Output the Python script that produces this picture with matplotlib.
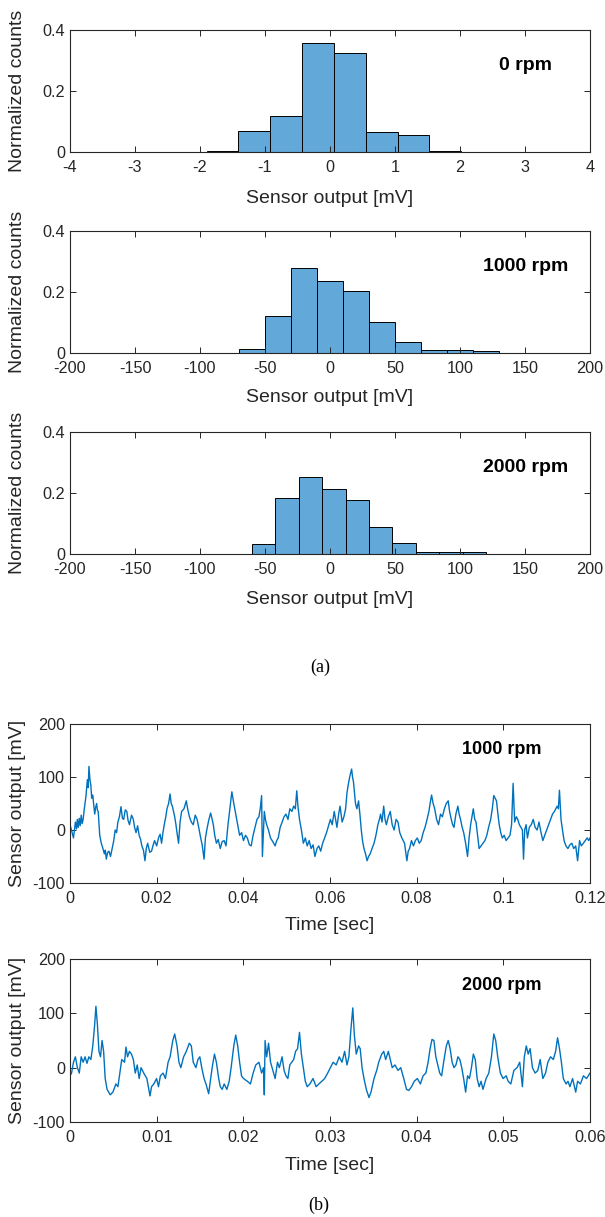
import numpy as np
import matplotlib
matplotlib.use("Agg")
import matplotlib.pyplot as plt

plt.rcParams['font.family'] = ['Liberation Sans', 'DejaVu Sans']

# ---------------- data ----------------
hist0_edges = [-2.39, -1.90, -1.41, -0.92, -0.43, 0.06, 0.55, 1.04, 1.53, 2.02]
hist0_counts = [0.001, 0.003, 0.068, 0.118, 0.357, 0.325, 0.065, 0.057, 0.004]

hist1000_edges = [-70, -50, -30, -10, 10, 30, 50, 70, 90, 110, 130]
hist1000_counts = [0.014, 0.121, 0.278, 0.237, 0.204, 0.101, 0.036, 0.009, 0.010, 0.005]

hist2000_edges = [-60, -42, -24, -6, 12, 30, 48, 66, 84, 102, 120]
hist2000_counts = [0.033, 0.183, 0.254, 0.214, 0.178, 0.090, 0.037, 0.005, 0.005, 0.005]

hist_labels = ['0 rpm', '1000 rpm', '2000 rpm']
hist_xlims = [(-4, 4), (-200, 200), (-200, 200)]
hist_xticks = [[-4, -3, -2, -1, 0, 1, 2, 3, 4],
               [-200, -150, -100, -50, 0, 50, 100, 150, 200],
               [-200, -150, -100, -50, 0, 50, 100, 150, 200]]

t1000_ms = [0, 0.4, 0.8, 1.25, 1.5, 1.69, 1.9, 2.14, 2.35, 2.59, 2.8, 3.03, 3.3, 3.66, 4.01, 4.2, 4.37, 4.6, 4.81, 5.0,
            5.26, 5.5, 5.71, 5.9, 6.15, 6.3, 6.51, 6.86, 7.22, 7.6, 7.93, 8.15, 8.38, 8.7, 9.0, 9.35, 9.72, 10.1, 10.43, 10.75,
            11.05, 11.4, 11.77, 12.1, 12.39, 12.75, 13.11, 13.4, 13.73, 14.2, 14.62, 14.9, 15.24, 15.6, 15.96, 16.3, 16.58, 16.95, 17.3, 17.6,
            17.92, 18.4, 18.81, 19.2, 19.52, 20.0, 20.42, 20.8, 21.13, 21.45, 21.75, 22.1, 22.38, 22.75, 23.09, 23.35, 23.62, 23.9, 24.16, 24.45,
            24.69, 25.05, 25.4, 25.76, 26.3, 26.83, 27.2, 27.55, 28.0, 28.44, 28.9, 29.33, 29.7, 30.04, 30.5, 30.94, 31.25, 31.56, 32.0, 32.45,
            32.75, 33.07, 33.4, 33.79, 34.2, 34.68, 35.1, 35.57, 36.0, 36.46, 36.9, 37.35, 37.8, 38.25, 38.7, 39.14, 39.6, 40.03, 40.5, 40.92,
            41.4, 41.81, 42.25, 42.7, 43.15, 43.59, 43.9, 44.22, 44.4, 44.84, 45.1, 45.38, 45.8, 46.27, 46.8, 47.34, 47.7, 48.05, 48.5, 48.94,
            49.4, 49.83, 50.3, 50.73, 51.2, 51.62, 52.0, 52.33, 52.6, 52.96, 53.4, 53.85, 54.3, 54.74, 55.2, 55.63, 56.1, 56.52, 57.0, 57.41,
            57.85, 58.3, 58.75, 59.2, 59.65, 60.09, 60.5, 60.98, 61.3, 61.6, 62.0, 62.32, 62.8, 63.21, 63.6, 63.92, 64.2, 64.54, 64.99, 65.2,
            65.43, 65.88, 66.2, 66.59, 66.9, 67.22, 67.5, 67.84, 68.2, 68.56, 68.9, 69.27, 69.7, 70.16, 70.6, 71.05, 71.4, 71.68, 72.0, 72.39,
            72.7, 73.01, 73.45, 73.91, 74.35, 74.8, 75.25, 75.69, 76.1, 76.58, 76.9, 77.2, 77.74, 78.05, 78.36, 78.8, 79.26, 79.7, 80.15, 80.6,
            81.04, 81.5, 81.93, 82.4, 82.82, 83.1, 83.44, 83.8, 84.16, 84.6, 85.05, 85.5, 85.94, 86.4, 86.83, 87.28, 87.6, 87.99, 88.3, 88.61,
            89.05, 89.51, 89.8, 90.13, 90.5, 90.85, 91.3, 91.74, 92.1, 92.45, 92.75, 93.07, 93.4, 93.7, 94.05, 94.41, 94.85, 95.3, 95.75, 96.19,
            96.6, 97.08, 97.45, 97.8, 98.1, 98.42, 98.75, 99.05, 99.4, 99.76, 100.2, 100.65, 101.1, 101.54, 101.9, 102.26, 102.61, 103.0, 103.33, 103.7,
            104.04, 104.4, 104.66, 104.93, 105.25, 105.56, 106.0, 106.45, 106.9, 107.34, 107.8, 108.23, 108.7, 109.12, 109.55, 110.01, 110.45, 110.9, 111.35, 111.79,
            112.1, 112.42, 112.7, 112.95, 113.31, 113.65, 114.02, 114.45, 114.91, 115.35, 115.8, 116.25, 116.7, 117.14, 117.59, 118.0, 118.48, 118.9, 119.37, 119.7,
            120]
v1000_mv = [10, -2, -15, 15, 2, 20, 5, 22, 8, 28, 12, 20, 40, 62, 95, 80, 120, 95, 85, 60,
            66, 45, 30, 42, 50, 38, 35, -10, -25, -35, -45, -38, -55, -42, -40, -50, -35, -20, 0, -5,
            15, 25, 44, 22, 20, 38, 35, 18, 10, 28, 20, 5, -5, 8, -10, -18, -30, -38, -58, -35,
            -25, -42, -40, -28, -20, -30, -15, -8, -25, -5, 10, 25, 40, 50, 68, 50, 45, 35, 25, 10,
            -5, -25, 15, 35, 40, 55, 38, 25, 15, 10, 28, 20, 5, -10, -28, -55, -15, 0, 18, 32,
            22, 10, -10, -25, -18, -35, -22, -20, -30, 10, 40, 72, 50, 30, 10, -10, -5, -20, -10, -15,
            -28, -30, -10, 5, 20, 25, 40, 65, -50, 35, 20, 10, 0, -15, -22, -30, -20, -15, 5, 15,
            25, 30, 20, 40, 35, 45, 40, 74, 45, 20, 0, -25, -15, -30, -20, -35, -28, -50, -35, -30,
            -40, -25, -15, -5, 8, 20, 10, 35, 20, 5, 30, 45, 15, 25, 40, 70, 85, 100, 115, 100,
            90, 50, 40, 55, 30, 0, -20, -35, -45, -58, -50, -45, -35, -25, -10, 10, 20, 30, 15, 45,
            20, 10, 25, 35, 10, 0, 20, 15, -5, -15, -20, -25, -58, -40, -35, -20, -30, -20, -15, -25,
            -20, -5, 5, 20, 35, 50, 66, 50, 40, 20, 10, 30, 25, 40, 50, 55, 35, 20, 10, 5,
            30, 45, 30, 20, 5, -5, -25, -50, -15, 10, 25, 40, 20, 15, -10, -35, -30, -25, -20, -10,
            5, 20, 40, 65, 60, 55, 30, 10, -5, -15, -10, -20, -15, -10, 10, 88, 15, 25, 20, 10,
            5, 0, -55, 0, 10, -15, 5, 10, 20, 5, 0, 15, -5, -20, -10, 0, 10, 20, 30, 35,
            40, 45, 40, 75, 20, 0, -20, -30, -35, -28, -25, -35, -30, -58, -20, -30, -25, -20, -15, -20,
            -15]

t2000_ms = [0, 0.18, 0.40, 0.62, 0.85, 1.07, 1.29, 1.52, 1.74, 1.96, 2.18, 2.41, 2.63, 2.85, 2.99, 3.16, 3.34, 3.52, 3.70, 3.88,
            4.06, 4.28, 4.64, 4.95, 5.30, 5.53, 5.75, 5.97, 6.29, 6.46, 6.64, 6.86, 7.09, 7.31, 7.53, 7.76, 7.98, 8.20, 8.51, 8.87,
            9.23, 9.41, 9.67, 9.99, 10.21, 10.43, 10.74, 11.01, 11.32, 11.55, 11.86, 12.08, 12.35, 12.57, 12.79, 13.11, 13.42, 13.77, 14.00, 14.22,
            14.53, 14.76, 14.98, 15.20, 15.47, 15.69, 16.00, 16.23, 16.45, 16.67, 16.89, 17.16, 17.34, 17.56, 17.79, 18.10, 18.37, 18.59, 18.90, 19.12,
            19.35, 19.57, 19.79, 20.02, 20.46, 20.82, 21.13, 21.44, 21.80, 22.11, 22.33, 22.42, 22.51, 22.69, 22.91, 23.14, 23.40, 23.67, 23.94, 24.16,
            24.47, 24.70, 24.92, 25.14, 25.36, 25.59, 25.81, 26.03, 26.26, 26.48, 26.70, 26.92, 27.15, 27.37, 27.68, 28.04, 28.40, 28.71, 29.06, 29.38,
            29.73, 30.04, 30.36, 30.71, 31.07, 31.38, 31.69, 31.96, 32.18, 32.41, 32.63, 32.81, 33.03, 33.30, 33.48, 33.70, 33.92, 34.19, 34.50, 34.73,
            35.08, 35.39, 35.62, 35.97, 36.20, 36.42, 36.73, 36.95, 37.18, 37.49, 37.85, 38.16, 38.51, 38.83, 39.09, 39.41, 39.72, 40.08, 40.43, 40.74,
            41.06, 41.32, 41.55, 41.77, 41.99, 42.21, 42.44, 42.66, 42.88, 43.11, 43.42, 43.64, 43.86, 44.09, 44.31, 44.53, 44.76, 44.98, 45.20, 45.42,
            45.65, 45.87, 46.09, 46.32, 46.54, 46.76, 46.98, 47.21, 47.43, 47.65, 48.01, 48.32, 48.63, 48.90, 49.12, 49.35, 49.66, 49.97, 50.33, 50.55,
            50.86, 51.22, 51.58, 51.89, 52.20, 52.42, 52.65, 52.87, 53.09, 53.36, 53.67, 53.98, 54.25, 54.56, 54.87, 55.14, 55.45, 55.77, 56.03, 56.26,
            56.48, 56.70, 56.92, 57.24, 57.46, 57.68, 57.99, 58.35, 58.57, 58.89, 59.24, 59.60, 60]
v2000_mv = [-15, -10, 10, 20, 0, -10, 20, 10, 20, 8, 20, 15, 40, 80, 113, 80, 30, 20, 50, 30,
            -20, -40, -50, -45, -30, -35, -10, 15, 10, 38, 20, 30, 25, 15, -10, 5, -20, 0, -10, -20,
            -52, -35, -30, -20, -35, -15, -10, -20, 10, 20, 50, 62, 40, 10, 0, 20, 30, 45, 40, 10,
            0, 15, 20, 0, -20, -30, -48, -20, 5, 25, 10, -20, -35, -40, -30, -40, -25, 0, 40, 60,
            40, 10, -15, -20, -25, -30, -10, 5, 10, -10, 0, -50, 50, 20, 45, 10, -5, -20, 10, 0,
            20, -5, -15, -20, 5, 10, 15, 30, 35, 65, 25, 0, -25, -35, -30, -20, -35, -30, -25, -20,
            -10, 0, 10, 5, 20, 10, 30, 5, 20, 70, 110, 60, 25, 40, 35, 0, -20, -40, -55, -45,
            -20, -5, 10, 25, 30, 15, 30, 15, 0, 5, -5, 0, -20, -40, -42, -35, -25, -20, -30, -15,
            -10, 10, 35, 52, 50, 20, 5, -10, -15, 10, 40, 50, 35, 10, 0, 5, 20, 15, 0, -20,
            -45, -15, -20, 0, 25, 15, -20, -35, -25, -40, -20, -10, 20, 62, 50, 20, -10, -20, -15, -25,
            -30, -5, 0, 10, -35, 20, 40, 25, 35, 0, -10, -5, 15, -20, -10, 10, 20, 15, 30, 55,
            35, 10, -20, -30, -25, -35, -20, -45, -25, -30, -15, -20, -10]

ts_labels = ['1000 rpm', '2000 rpm']
ts_xlims = [(0, 0.12), (0, 0.06)]
ts_xticks = [[0, 0.02, 0.04, 0.06, 0.08, 0.1, 0.12],
             [0, 0.01, 0.02, 0.03, 0.04, 0.05, 0.06]]

# ---------------- style ----------------
W, H = 605, 1217
bar_color = '#62a8d8'
line_color = '#0072bd'
txt = '#262626'
fs_tick = 11.7
fs_lab = 14
fs_rpm_hist = 14
fs_rpm_ts = 13

fig = plt.figure(figsize=(W / 100, H / 100), dpi=100)


def px_axes(x0, y0, x1, y1):
    return fig.add_axes([x0 / W, 1 - y1 / H, (x1 - x0) / W, (y1 - y0) / H])


def style(ax):
    for s in ax.spines.values():
        s.set_color(txt)
        s.set_linewidth(0.8)
    ax.tick_params(direction='in', length=4, width=0.7, color=txt,
                   labelcolor=txt, labelsize=fs_tick, top=True, right=True)
    ax.tick_params(axis='x', pad=6)
    ax.tick_params(axis='y', pad=3.5)


def place_labels(ax, x0, y0, y1, xlab_y):
    # label centres given in figure pixels
    ax.xaxis.label.set_va('center')
    ax.yaxis.label.set_va('center')
    ax.xaxis.set_label_coords(0.5, -(xlab_y - y1) / (y1 - y0))
    ax.yaxis.set_label_coords(-(x0 - 18) / 520, 0.5)


hist_rows = [(30, 152, 198), (231, 353, 398), (432, 554, 600)]
hist_data = [(hist0_edges, hist0_counts), (hist1000_edges, hist1000_counts),
             (hist2000_edges, hist2000_counts)]
for (y0, y1, yl), (edges, counts), lab, xl, xt in zip(hist_rows, hist_data, hist_labels, hist_xlims, hist_xticks):
    ax = px_axes(70, y0, 590, y1)
    e = np.asarray(edges, float)
    ax.bar(e[:-1], counts, width=np.diff(e), align='edge', color=bar_color,
           edgecolor='black', linewidth=0.7)
    ax.set_xlim(*xl)
    ax.set_ylim(0, 0.4)
    ax.set_xticks(xt)
    ax.set_xticklabels([f'{v:g}' for v in xt])
    ax.set_yticks([0, 0.2, 0.4])
    ax.set_yticklabels(['0', '0.2', '0.4'])
    style(ax)
    ax.set_xlabel('Sensor output [mV]', fontsize=fs_lab, color=txt)
    ax.set_ylabel('Normalized counts', fontsize=fs_lab, color=txt)
    place_labels(ax, 70, y0, y1, yl)
    ax.text(0.876, 0.71, lab, transform=ax.transAxes, ha='center', va='center',
            fontsize=fs_rpm_hist, fontweight='bold', color='black')

fig.text(320 / W, 1 - 667 / H, '(a)', ha='center', va='center',
         fontsize=13, family=['Liberation Serif', 'DejaVu Serif'], color='black')

ts_rows = [(724, 883, 925), (959, 1122, 1165)]
ts_data = [(t1000_ms, v1000_mv), (t2000_ms, v2000_mv)]
for (y0, y1, yl), (t, v), lab, xl, xt in zip(ts_rows, ts_data, ts_labels, ts_xlims, ts_xticks):
    ax = px_axes(70, y0, 590, y1)
    ax.plot(np.asarray(t) / 1000.0, v, color=line_color, linewidth=1.0)
    ax.set_xlim(*xl)
    ax.set_ylim(-100, 200)
    ax.set_xticks(xt)
    ax.set_xticklabels([f'{x:g}' for x in xt])
    ax.set_yticks([-100, 0, 100, 200])
    ax.set_yticklabels(['-100', '0', '100', '200'])
    style(ax)
    ax.set_xlabel('Time [sec]', fontsize=fs_lab, color=txt)
    ax.set_ylabel('Sensor output [mV]', fontsize=fs_lab, color=txt)
    place_labels(ax, 70, y0, y1, yl)
    ax.text(0.83, 0.84, lab, transform=ax.transAxes, ha='center', va='center',
            fontsize=fs_rpm_ts, fontweight='bold', color='black')

fig.text(319 / W, 1 - 1205 / H, '(b)', ha='center', va='center',
         fontsize=13, family=['Liberation Serif', 'DejaVu Serif'], color='black')

assert len(t1000_ms) == len(v1000_mv), (len(t1000_ms), len(v1000_mv))
assert len(t2000_ms) == len(v2000_mv), (len(t2000_ms), len(v2000_mv))

fig.savefig('out.png', dpi=100)
